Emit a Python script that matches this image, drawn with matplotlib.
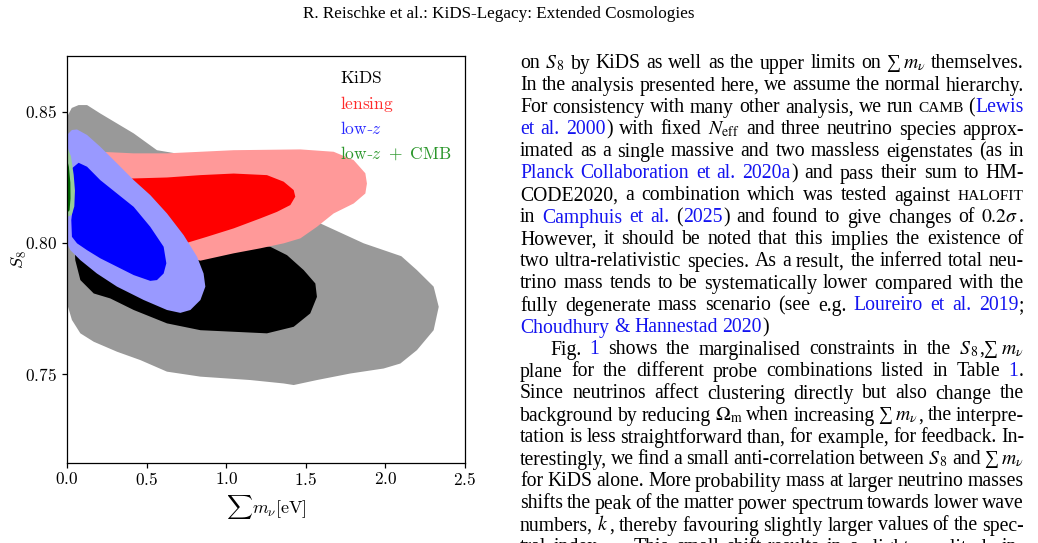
import re
import matplotlib
matplotlib.use('Agg')
import matplotlib.pyplot as plt

# Seite: Abbildung links (Konturen), Fliesstext rechts

plt.rcParams['mathtext.fontset'] = 'cm'
plt.rcParams['font.family'] = ['Liberation Serif', 'DejaVu Serif']

# Konturen, x = sum m_nu [eV], y = S_8
kids95_x = [0.0, 0.03, 0.073, 0.126, 0.209, 0.419, 0.565, 0.80, 1.047, 1.30, 1.466, 1.591, 1.864, 2.10, 2.198,
            2.303, 2.335, 2.303, 2.198, 2.094, 1.989, 1.780, 1.570, 1.424, 1.361, 1.152, 0.838, 0.628,
            0.461, 0.314, 0.168, 0.084, 0.031, 0.0]
kids95_y = [0.8481, 0.8515, 0.8526, 0.8526, 0.8494, 0.8418, 0.8354, 0.8330, 0.8304, 0.8250, 0.8177, 0.8075,
            0.7999, 0.7950, 0.7897, 0.7834, 0.7757, 0.7668, 0.7592, 0.7541, 0.7522, 0.7503, 0.7478,
            0.7459, 0.7465, 0.7478, 0.7491, 0.7510, 0.7554, 0.7586, 0.7624, 0.7656, 0.7707, 0.7770]

kids68_x = [0.052, 0.084, 0.168, 0.272, 0.419, 0.628, 0.838, 1.047, 1.256, 1.424, 1.528, 1.570, 1.560,
            1.487, 1.382, 1.277, 0.942, 0.523, 0.105, 0.042]
kids68_y = [0.7935, 0.7859, 0.7808, 0.7789, 0.7745, 0.7694, 0.7668, 0.7662, 0.7656, 0.7681, 0.7732,
            0.7795, 0.7846, 0.7897, 0.7954, 0.7986, 0.8011, 0.8113, 0.8138, 0.8062]

lens95_x = [0.209, 0.419, 0.628, 0.838, 1.047, 1.466, 1.675, 1.801, 1.874, 1.884, 1.874, 1.801, 1.675,
            1.570, 1.466, 1.361, 1.214, 1.047, 0.838, 0.628, 0.314, 0.126, 0.147]
lens95_y = [0.8348, 0.8342, 0.8342, 0.8348, 0.8354, 0.8357, 0.8348, 0.8316, 0.8266, 0.8227, 0.8189,
            0.8151, 0.8113, 0.8062, 0.8018, 0.7999, 0.7980, 0.7961, 0.7933, 0.7961, 0.8062, 0.8266, 0.8342]

lens68_x = [0.398, 0.628, 0.838, 1.047, 1.256, 1.361, 1.424, 1.434, 1.403, 1.319, 1.214, 1.047, 0.879,
            0.754, 0.628, 0.461, 0.356]
lens68_y = [0.8246, 0.8250, 0.8259, 0.8265, 0.8259, 0.8234, 0.8202, 0.8177, 0.8145, 0.8119, 0.8094,
            0.8056, 0.8024, 0.8001, 0.8062, 0.8202, 0.8246]

lowz95_x = [0.0, 0.031, 0.063, 0.126, 0.209, 0.314, 0.419, 0.523, 0.628, 0.733, 0.817, 0.858, 0.869,
            0.838, 0.775, 0.712, 0.628, 0.482, 0.314, 0.188, 0.084, 0.021, 0.0]
lowz95_y = [0.8412, 0.8431, 0.8433, 0.8412, 0.8367, 0.8304, 0.8240, 0.8183, 0.8113, 0.8030, 0.7948,
            0.7884, 0.7834, 0.7783, 0.7745, 0.7734, 0.7745, 0.7783, 0.7834, 0.7884, 0.7935, 0.7973, 0.7999]

lowz68_x = [0.031, 0.073, 0.126, 0.209, 0.314, 0.419, 0.523, 0.607, 0.624, 0.607, 0.565, 0.523, 0.419,
            0.314, 0.209, 0.126, 0.063, 0.031, 0.027, 0.042, 0.031]
lowz68_y = [0.8285, 0.8306, 0.8291, 0.8240, 0.8189, 0.8138, 0.8062, 0.7986, 0.7923, 0.7884, 0.7859,
            0.7856, 0.7878, 0.7910, 0.7942, 0.7973, 0.7999, 0.8024, 0.8088, 0.8164, 0.8240]

cmb95_x = [0.0, 0.025, 0.042, 0.050, 0.046, 0.030, 0.0]
cmb95_y = [0.8370, 0.8330, 0.8260, 0.8200, 0.8140, 0.8107, 0.8100]
cmb68_x = [0.0, 0.012, 0.021, 0.022, 0.016, 0.0]
cmb68_y = [0.8320, 0.8290, 0.8230, 0.8170, 0.8125, 0.8115]

legend_labels = [r'$\mathrm{KiDS}$', r'$\mathrm{lensing}$', r'$\mathrm{low}$-$z$', r'$\mathrm{low}$-$z\ +\ \mathrm{CMB}$']
legend_colors = ['black', '#ff2a2a', '#2a2aff', '#2a962a']

xticks = [0.0, 0.5, 1.0, 1.5, 2.0, 2.5]
yticks = [0.75, 0.80, 0.85]

header = 'R. Reischke et al.: KiDS-Legacy: Extended Cosmologies'

# Textzeilen: [..] = Link (blau), <..> = Kapitaelchen, $..$ = Formel
body_lines = [
    r'on $S_{\,8}$ by KiDS as well as the upper limits on ∑$\,m_\nu$ themselves.',
    r'In the analysis presented here, we assume the normal hierarchy.',
    r'For consistency with many other analysis, we run <CAMB> ([Lewis]',
    r'[et al. 2000]) with fixed $N_{\rm eff}$ and three neutrino species approx-',
    r'imated as a single massive and two massless eigenstates (as in',
    r'[Planck Collaboration et al. 2020a]) and pass their sum to HM-',
    r'CODE2020, a combination which was tested against <HALOFIT>',
    r'in [Camphuis et al.] ([2025]) and found to give changes of $0.2\sigma$.',
    r'However, it should be noted that this implies the existence of',
    r'two ultra-relativistic species. As a result, the inferred total neu-',
    r'trino mass tends to be systematically lower compared with the',
    r'fully degenerate mass scenario (see e.g. [Loureiro et al. 2019];',
    r'[Choudhury & Hannestad 2020])',
    r'Fig. [1] shows the marginalised constraints in the $S_{\,8}$,∑$\,m_\nu$',
    r'plane for the different probe combinations listed in Table [1].',
    r'Since neutrinos affect clustering directly but also change the',
    r'background by reducing $\Omega_{\rm m}$ when increasing ∑$\,m_\nu$, the interpre-',
    r'tation is less straightforward than, for example, for feedback. In-',
    r'terestingly, we find a small anti-correlation between $S_{\,8}$ and ∑$\,m_\nu$',
    r'for KiDS alone. More probability mass at larger neutrino masses',
    r'shifts the peak of the matter power spectrum towards lower wave',
    r'numbers, $k$, thereby favouring slightly larger values of the spec-',
    r'tral index $n_{\rm s}$. This small shift results in a slight amplitude in-',
]
justified = [True] * len(body_lines)
justified[12] = False
indent = [0] * len(body_lines)
indent[13] = 30

W, H = 1038, 543
fig = plt.figure(figsize=(W / 100, H / 100), dpi=100)
renderer = fig.canvas.get_renderer()

# --- Abbildung ---
ax = fig.add_axes([67 / W, 1 - 462.7 / H, 398 / W, 406.7 / H])
ax.fill(kids95_x, kids95_y, color='#999999', lw=0)
ax.fill(kids68_x, kids68_y, color='black', lw=0)
ax.fill(lens95_x, lens95_y, color='#ff9999', lw=0)
ax.fill(lens68_x, lens68_y, color='#ff0000', lw=0)
ax.fill(lowz95_x, lowz95_y, color='#9999ff', lw=0)
ax.fill(lowz68_x, lowz68_y, color='#0000ff', lw=0)
ax.fill(cmb95_x, cmb95_y, color='#99cc99', lw=0)
ax.fill(cmb68_x, cmb68_y, color='#006400', lw=0)

ax.set_xlim(0, 2.5)
ax.set_ylim(0.7163, 0.8713)
ax.set_xticks(xticks)
ax.set_xticklabels([f'${t:.1f}$' for t in xticks], fontsize=12.5)
ax.set_yticks(yticks)
ax.set_yticklabels([f'${t:.2f}$' for t in yticks], fontsize=12.5)
ax.tick_params(length=3.5, width=0.9)
for sp in ax.spines.values():
    sp.set_linewidth(0.9)
ax.set_xlabel(r'$\sum m_\nu[\mathrm{eV}]$', fontsize=13)
ax.set_ylabel(r'$S_8$', fontsize=13)
ax.xaxis.set_label_coords(0.5, -0.075)
ax.yaxis.set_label_coords(-0.095, 0.5)

for i, (lab, col) in enumerate(zip(legend_labels, legend_colors)):
    ax.text(0.686, 0.943 - i * 0.0615, lab, color=col, fontsize=12.5,
            transform=ax.transAxes, va='center', ha='left')

# --- Kopfzeile ---
fig.text(499 / W, 1 - 14 / H, header, fontsize=12.3, ha='center', va='center')


# --- Fliesstext ---
def parse_line(s):
    runs = []
    for m in re.finditer(r'\[([^\]]*)\]|<([^>]*)>|(\$[^$]*\$)|([^\[<$]+)', s):
        if m.group(1) is not None:
            runs.append((m.group(1), 'link'))
        elif m.group(2) is not None:
            runs.append((m.group(2), 'sc'))
        elif m.group(3) is not None:
            runs.append((m.group(3), 'math'))
        else:
            runs.append((m.group(4), 'rm'))
    words = [[]]
    for txt, st in runs:
        if st == 'math':
            words[-1].append((txt, st))
            continue
        parts = txt.split(' ')
        for k, p in enumerate(parts):
            if k > 0:
                words.append([])
            if p:
                words[-1].append((p, st))
    return [w for w in words if w]


fs = 14.2
link_col = '#1414f0'


def make_seg(txt, st):
    if st == 'sc':
        t = fig.text(0, 0, txt.upper(), fontsize=fs * 0.78, va='baseline')
    elif st == 'link':
        t = fig.text(0, 0, txt, fontsize=fs, color=link_col, va='baseline')
    elif st == 'math':
        t = fig.text(0, 0, txt, fontsize=fs, va='baseline', math_fontfamily='stix')
    else:
        t = fig.text(0, 0, txt, fontsize=fs, va='baseline')
    return t, t.get_window_extent(renderer).width


x_left, x_right = 520, 1024
space = 4.8
for i, line in enumerate(body_lines):
    words = parse_line(line)
    base = 62.5 + 22.0 * i + 6.0
    placed = []
    total = 0
    for w in words:
        segs = [make_seg(txt, st) for txt, st in w]
        wsum = sum(s[1] for s in segs) + 0.5 * (len(segs) - 1)
        placed.append((segs, wsum))
        total += wsum
    x0 = x_left + indent[i]
    if justified[i] and len(placed) > 1:
        gap = (x_right - x0 - total) / (len(placed) - 1)
    else:
        gap = space
    x = x0
    for segs, wsum in placed:
        xs = x
        for t, sw in segs:
            t.set_position((xs / W, 1 - base / H))
            xs += sw + 0.5
        x += wsum + gap

fig.savefig('out.png', dpi=100)
